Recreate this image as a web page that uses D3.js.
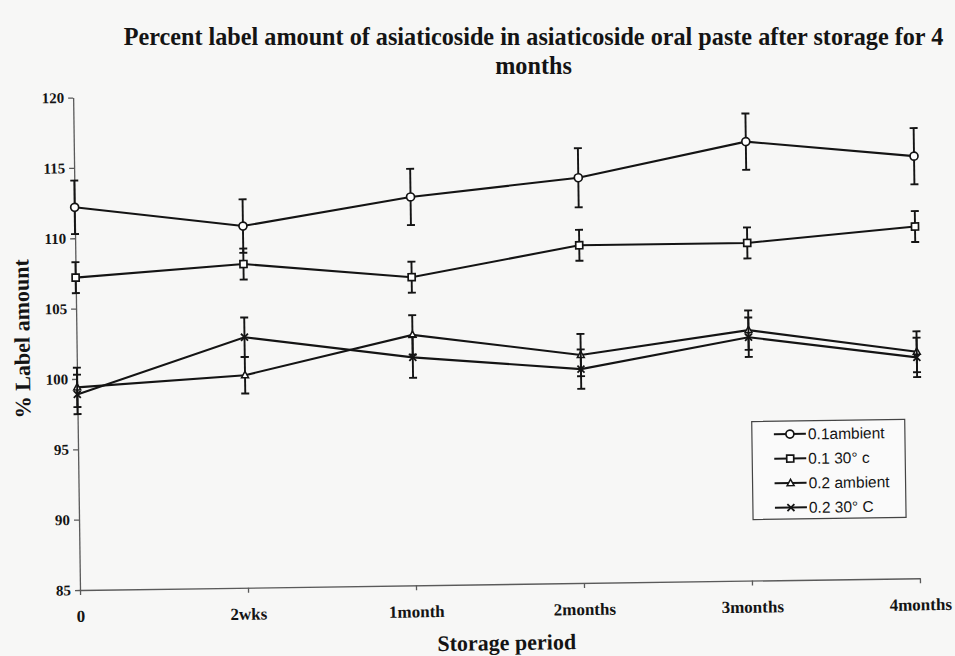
<!DOCTYPE html>
<html>
<head>
<meta charset="utf-8">
<script src="https://cdn.jsdelivr.net/npm/d3@7/dist/d3.min.js"></script>
<style>
  body { margin: 0; background: #f7f7f6; }
  svg { display: block; }
</style>
</head>
<body>
<svg id="chart" width="955" height="656"></svg>
<script>
// Storage periods (x categories)
const periods = ["0", "2wks", "1month", "2months", "3months", "4months"];
const yTicks = [85, 90, 95, 100, 105, 110, 115, 120];

// Series names as shown in the legend
const seriesNames = ["0.1ambient", "0.1 30° c", "0.2 ambient", "0.2 30° C"];
const seriesMarkers = ["circle", "square", "triangle", "cross"];

// Mean % label amount for each series
const amb01 = [112.2, 110.7, 112.6, 113.8, 116.2, 115.0];
const hot01 = [107.2, 108.0, 106.9, 109.0, 109.0, 110.0];
const amb02 = [99.4, 100.1, 102.8, 101.2, 102.8, 101.1];
const hot02 = [98.9, 102.8, 101.2, 100.2, 102.3, 100.7];

// Error bar half-widths (SD)
const amb01Err = [1.9, 1.9, 2.0, 2.1, 2.0, 2.0];
const hot01Err = [1.1, 1.1, 1.1, 1.1, 1.1, 1.1];
const amb02Err = [1.4, 1.3, 1.4, 1.5, 1.4, 1.45];
const hot02Err = [1.4, 1.4, 1.45, 1.4, 1.4, 1.4];

const seriesValues = [amb01, hot01, amb02, hot02];
const seriesErrors = [amb01Err, hot01Err, amb02Err, hot02Err];

const ink = "#141414";
const serif = "'Liberation Serif', 'Times New Roman', serif";
const sans = "'Liberation Sans', Arial, sans-serif";

const svg = d3.select("#chart");
svg.append("rect").attr("width", 955).attr("height", 656).attr("fill", "#f7f7f6");

// Title (two lines, kept level)
const titleLines = [
  "Percent label amount of asiaticoside in asiaticoside oral paste after storage for 4",
  "months"
];
svg.append("g").selectAll("text").data(titleLines).join("text")
  .attr("x", 533.5).attr("y", (d, i) => 44.6 + i * 29)
  .attr("text-anchor", "middle")
  .attr("font-family", serif).attr("font-weight", "bold")
  .attr("font-size", 24.2).attr("fill", ink)
  .text(d => d);

const plotLeft = 80, plotRight = 920, plotTop = 97.5, plotBottom = 590;
// the plotted page sits slightly tilted
const root = svg.append("g").attr("transform", `rotate(-0.8, ${plotLeft}, ${plotBottom})`);

const x = d3.scalePoint().domain(periods).range([plotLeft, plotRight]);
const y = d3.scaleLinear().domain([85, 120]).range([plotBottom, plotTop]);

// Axes
const yAxis = root.append("g").attr("transform", `translate(${plotLeft},0)`)
  .call(d3.axisLeft(y).tickValues(yTicks).tickSize(5).tickSizeOuter(0).tickPadding(4));
const xAxis = root.append("g").attr("transform", `translate(0,${plotBottom})`)
  .call(d3.axisBottom(x).tickSize(5).tickSizeOuter(0).tickPadding(15));

[yAxis, xAxis].forEach(g => {
  g.select(".domain").attr("stroke", "#5a5a5a").attr("stroke-width", 1.3);
  g.selectAll(".tick line").attr("stroke", "#5a5a5a").attr("stroke-width", 1.3);
  g.selectAll("text").attr("font-family", serif).attr("font-weight", "bold").attr("fill", ink);
});
yAxis.selectAll("text").attr("font-size", 15);
xAxis.selectAll("text").attr("font-size", 17);

// Axis titles
root.append("text")
  .attr("transform", `translate(33,338) rotate(-90)`)
  .attr("text-anchor", "middle")
  .attr("font-family", serif).attr("font-weight", "bold").attr("font-size", 22)
  .attr("fill", ink).text("% Label amount");
root.append("text")
  .attr("x", 506).attr("y", 656).attr("text-anchor", "middle")
  .attr("font-family", serif).attr("font-weight", "bold").attr("font-size", 22)
  .attr("fill", ink).text("Storage period");

// Marker drawing
function drawMarker(g, type, cx, cy, s) {
  if (type === "circle") {
    g.append("circle").attr("cx", cx).attr("cy", cy).attr("r", s * 0.57)
      .attr("fill", "#fff").attr("stroke", ink).attr("stroke-width", 1.7);
  } else if (type === "square") {
    g.append("rect").attr("x", cx - s / 2).attr("y", cy - s / 2).attr("width", s).attr("height", s)
      .attr("fill", "#fff").attr("stroke", ink).attr("stroke-width", 1.7);
  } else if (type === "triangle") {
    const h = s * 0.9;
    g.append("path")
      .attr("d", `M${cx},${cy - h * 0.6}L${cx + s / 2},${cy + h * 0.4}L${cx - s / 2},${cy + h * 0.4}Z`)
      .attr("fill", "#fff").attr("stroke", ink).attr("stroke-width", 1.5);
  } else {
    const r = s / 2;
    g.append("path")
      .attr("d", `M${cx - r},${cy - r}L${cx + r},${cy + r}M${cx - r},${cy + r}L${cx + r},${cy - r}`)
      .attr("stroke", ink).attr("stroke-width", 1.8);
  }
}

const line = d3.line().x((d, i) => x(periods[i])).y(d => y(d));
const plot = root.append("g");

seriesValues.forEach((vals, si) => {
  const g = plot.append("g");
  // error bars
  vals.forEach((v, i) => {
    const cx = x(periods[i]);
    const e = seriesErrors[si][i];
    const y1 = y(v + e), y2 = y(v - e);
    g.append("line").attr("x1", cx).attr("x2", cx).attr("y1", y1).attr("y2", y2)
      .attr("stroke", ink).attr("stroke-width", 1.9);
    [y1, y2].forEach(yy => g.append("line")
      .attr("x1", cx - 4).attr("x2", cx + 4).attr("y1", yy).attr("y2", yy)
      .attr("stroke", ink).attr("stroke-width", 1.9));
  });
  g.append("path").datum(vals).attr("d", line)
    .attr("fill", "none").attr("stroke", ink).attr("stroke-width", 2.1);
  vals.forEach((v, i) => drawMarker(g, seriesMarkers[si], x(periods[i]), y(v), 7));
});

// Legend
const lg = root.append("g").attr("transform", "translate(754,431)");
lg.append("rect").attr("width", 153).attr("height", 98)
  .attr("fill", "#fafafa").attr("stroke", "#444").attr("stroke-width", 1.2);
seriesNames.forEach((name, i) => {
  const ly = 13 + i * 24.5;
  lg.append("line").attr("x1", 22).attr("x2", 54).attr("y1", ly).attr("y2", ly)
    .attr("stroke", ink).attr("stroke-width", 2);
  drawMarker(lg, seriesMarkers[i], 38, ly, 7);
  lg.append("text").attr("x", 56).attr("y", ly + 5.5)
    .attr("font-family", sans).attr("font-size", 15.5).attr("fill", ink).text(name);
});
</script>
</body>
</html>
